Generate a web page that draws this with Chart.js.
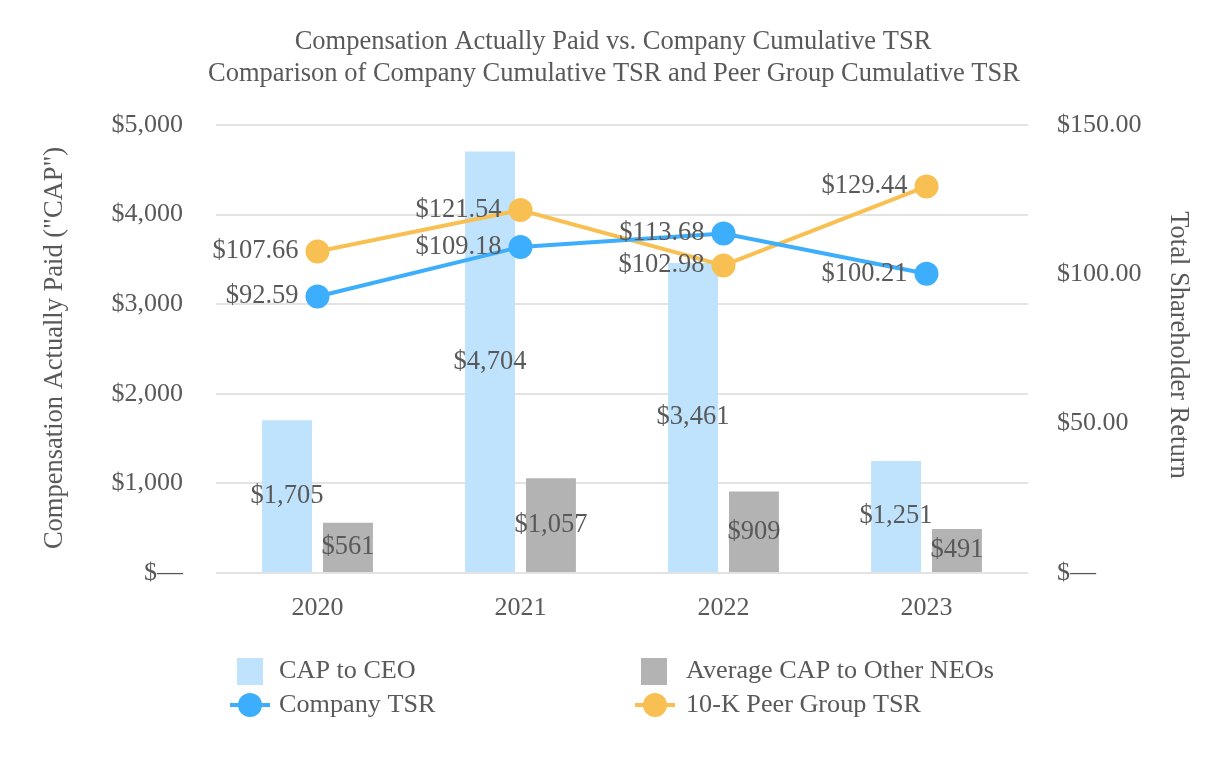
<!DOCTYPE html>
<html>
<head>
<meta charset="utf-8">
<script src="https://cdn.jsdelivr.net/npm/chart.js@4.4.1/dist/chart.umd.min.js"></script>
<style>
html,body{margin:0;padding:0;background:#fff;}
#wrap{width:1226px;height:760px;position:relative;}
</style>
</head>
<body>
<div id="wrap"><canvas id="c" width="1226" height="760"></canvas></div>
<script>
const years = ['2020','2021','2022','2023'];
const capCEO = [1705, 4704, 3461, 1251];
const capNEO = [561, 1057, 909, 491];
const companyTSR = [92.59, 109.18, 113.68, 100.21];
const peerTSR = [107.66, 121.54, 102.98, 129.44];
const titleLines = ['Compensation Actually Paid vs. Company Cumulative TSR',
  'Comparison of Company Cumulative TSR and Peer Group Cumulative TSR'];
const leftAxisTitle = 'Compensation Actually Paid ("CAP")';
const rightAxisTitle = 'Total Shareholder Return';

const FONT = '"Liberation Serif","Times New Roman",serif';
const TXT = '#595959';
const C_CEO = '#BFE3FD';
const C_NEO = '#B3B3B3';
const C_CO = '#3DAEFC';
const C_PEER = '#F8C052';

function fmtMoney(v){ return v === 0 ? '$—' : '$' + v.toLocaleString('en-US'); }
function fmtTSR(v){ return v === 0 ? '$—' : '$' + v.toFixed(2); }

const labelsPlugin = {
  id: 'labels',
  afterDatasetsDraw(chart){
    const ctx = chart.ctx;
    ctx.save();
    ctx.font = '26.5px ' + FONT;
    ctx.fillStyle = TXT;
    chart.data.datasets.forEach((ds, i) => {
      const meta = chart.getDatasetMeta(i);
      meta.data.forEach((el, j) => {
        const v = ds.data[j];
        if (ds.type === 'bar') {
          ctx.textAlign = 'center';
          ctx.textBaseline = 'middle';
          ctx.fillText(fmtMoney(v), el.x, (el.y + el.base) / 2);
        } else {
          ctx.textAlign = 'right';
          ctx.textBaseline = 'middle';
          ctx.fillText(fmtTSR(v), el.x - 19, el.y);
        }
      });
    });
    ctx.restore();
  }
};

const decoPlugin = {
  id: 'deco',
  afterDraw(chart){
    const ctx = chart.ctx;
    ctx.save();
    ctx.fillStyle = TXT;
    // title
    ctx.font = '26.5px ' + FONT;
    ctx.textAlign = 'center';
    ctx.textBaseline = 'middle';
    ctx.fillText(titleLines[0], 613, 42);
    ctx.fillText(titleLines[1], 614, 74);
    // axis titles
    ctx.font = '26.5px ' + FONT;
    ctx.textAlign = 'center';
    ctx.save();
    ctx.translate(55, 348);
    ctx.rotate(-Math.PI/2);
    ctx.fillText(leftAxisTitle, 0, 0);
    ctx.restore();
    ctx.save();
    ctx.translate(1178, 345);
    ctx.rotate(Math.PI/2);
    ctx.fillText(rightAxisTitle, 0, 0);
    ctx.restore();
    // legend
    const ds = chart.data.datasets;
    const pos = {
      'CAP to CEO': [250, 671, 279],
      'Average CAP to Other NEOs': [654, 671, 686],
      'Company TSR': [250, 705, 279],
      '10-K Peer Group TSR': [655, 705, 686]
    };
    ctx.font = '26.2px ' + FONT;
    ctx.textAlign = 'left';
    ds.forEach(d => {
      const p = pos[d.label];
      if (!p) return;
      const [cx, y, tx] = p;
      if (d.type === 'bar') {
        ctx.fillStyle = d.backgroundColor;
        ctx.fillRect(cx - 13, y - 13, 26, 27);
      } else {
        ctx.strokeStyle = d.borderColor;
        ctx.lineWidth = 4;
        ctx.beginPath();
        ctx.moveTo(cx - 20, y); ctx.lineTo(cx + 20, y);
        ctx.stroke();
        ctx.fillStyle = d.borderColor;
        ctx.beginPath();
        ctx.arc(cx, y, 12, 0, Math.PI*2);
        ctx.fill();
      }
      ctx.fillStyle = TXT;
      ctx.fillText(d.label, tx, y);
    });
    ctx.restore();
  }
};

new Chart(document.getElementById('c'), {
  data: {
    labels: years,
    datasets: [
      { type: 'line', label: 'Company TSR', data: companyTSR, yAxisID: 'y1',
        borderColor: C_CO, backgroundColor: C_CO, borderWidth: 4,
        pointRadius: 12, pointHoverRadius: 12, pointBackgroundColor: C_CO, pointBorderWidth: 0, order: 0 },
      { type: 'line', label: '10-K Peer Group TSR', data: peerTSR, yAxisID: 'y1',
        borderColor: C_PEER, backgroundColor: C_PEER, borderWidth: 4,
        pointRadius: 12, pointHoverRadius: 12, pointBackgroundColor: C_PEER, pointBorderWidth: 0, order: 0 },
      { type: 'bar', label: 'CAP to CEO', data: capCEO, yAxisID: 'y',
        backgroundColor: C_CEO, order: 1, categoryPercentage: 0.6, barPercentage: 0.82 },
      { type: 'bar', label: 'Average CAP to Other NEOs', data: capNEO, yAxisID: 'y',
        backgroundColor: C_NEO, order: 1, categoryPercentage: 0.6, barPercentage: 0.82 }
    ]
  },
  options: {
    responsive: false,
    animation: false,
    layout: { padding: { top: 125, left: 0, right: 0, bottom: 0 } },
    plugins: { legend: { display: false }, title: { display: false }, tooltip: { enabled: false } },
    scales: {
      x: {
        grid: { display: false },
        border: { display: false },
        ticks: { color: TXT, font: { family: FONT, size: 26 }, padding: 12 },
        afterFit(s){ s.height = 760 - 573; }
      },
      y: {
        position: 'left', min: 0, max: 5000,
        ticks: { stepSize: 1000, color: TXT, font: { family: FONT, size: 26 }, padding: 33,
          callback: v => fmtMoney(v) },
        grid: { color: '#E3E3E3', lineWidth: 2, drawTicks: false },
        border: { display: false },
        afterFit(s){ s.width = 216; }
      },
      y1: {
        position: 'right', min: 0, max: 150,
        ticks: { stepSize: 50, color: TXT, font: { family: FONT, size: 26 }, padding: 29,
          callback: v => fmtTSR(v) },
        grid: { display: false, drawTicks: false },
        border: { display: false },
        afterFit(s){ s.width = 1226 - 1028; }
      }
    }
  },
  plugins: [labelsPlugin, decoPlugin]
});
</script>
</body>
</html>
